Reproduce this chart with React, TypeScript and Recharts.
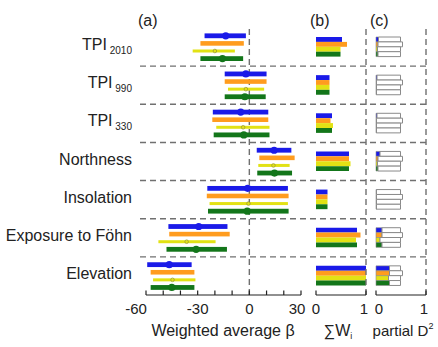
import React from 'react';
import { ComposedChart, Bar, XAxis, YAxis, ReferenceLine } from 'recharts';

// ---------- data ----------
const categories = ['TPI2010', 'TPI990', 'TPI330', 'Northness', 'Insolation', 'Exposure to Föhn', 'Elevation'];
const labelMain = ['TPI', 'TPI', 'TPI', 'Northness', 'Insolation', 'Exposure to Föhn', 'Elevation'];
const labelSub = ['2010', '990', '330', '', '', '', ''];

const seriesColors = ['#1a1ae8', '#ff9c1e', '#e2e214', '#13761a'];

// panel (a): weighted average beta, low / mid / high per model
const blueLow = [-26, -14.3, -21.2, 4.3, -24.4, -47, -59.3];
const blueMid = [-13.7, -2, -5, 14.4, -1, -29.4, -46.5];
const blueHigh = [-2, 10, 11, 24.4, 22.4, -12.7, -33.5];

const orangeLow = [-28.4, -14.3, -21.5, 5.8, -24.7, -46.5, -57.3];
const orangeMid = [-15.6, -2.5, -4, 15, -1, -28, -45];
const orangeHigh = [-3.2, 10, 11, 26.3, 22.8, -11.4, -31.9];

const yellowLow = [-32.9, -12.4, -19.2, 5.2, -23.1, -52.8, -55.9];
const yellowMid = [-20, -2, -3.6, 14, -0.5, -36.4, -44.6];
const yellowHigh = [-8.4, 8.6, 11.7, 23.4, 22.4, -19.6, -31.3];

const greenLow = [-28.4, -14.3, -20.7, 4.6, -24, -48.1, -57.3];
const greenMid = [-15.6, -2.6, -3.2, 14.6, -1.2, -30.9, -45];
const greenHigh = [-3.6, 9.5, 11.7, 24.8, 22.8, -13, -31.9];

// panel (b): sum of weights
const blueW = [0.52, 0.27, 0.32, 0.66, 0.23, 0.82, 1.0];
const orangeW = [0.62, 0.27, 0.29, 0.66, 0.23, 0.89, 1.0];
const yellowW = [0.49, 0.27, 0.34, 0.69, 0.23, 0.8, 1.0];
const greenW = [0.49, 0.27, 0.32, 0.66, 0.23, 0.82, 1.0];

// panel (c): partial D2 and full-model D2
const blueD = [0.05, 0.02, 0.02, 0.08, 0.01, 0.12, 0.27];
const orangeD = [0.04, 0.01, 0.01, 0.04, 0.01, 0.12, 0.27];
const yellowD = [0.03, 0.01, 0.01, 0.03, 0.01, 0.08, 0.25];
const greenD = [0.04, 0.01, 0.01, 0.04, 0.01, 0.12, 0.27];
const totalD = [0.49, 0.53, 0.49, 0.49];

const ticksA = [-60, -50, -40, -30, -20, -10, 0, 10, 20, 30];
const labelsA = [-60, -30, 0, 30];
const ticksBC = [0, 1];
const separators = [1, 2, 3, 4, 5, 6];

// ---------- tables ----------
const lows = [blueLow, orangeLow, yellowLow, greenLow];
const mids = [blueMid, orangeMid, yellowMid, greenMid];
const highs = [blueHigh, orangeHigh, yellowHigh, greenHigh];
const weights = [blueW, orangeW, yellowW, greenW];
const partials = [blueD, orangeD, yellowD, greenD];

const dataA = categories.map((name, i) => {
  const row: any = { name };
  for (let s = 0; s < 4; s++) {
    row[`lo${s}`] = lows[s][i];
    row[`mid${s}`] = mids[s][i];
    row[`hi${s}`] = highs[s][i];
  }
  return row;
});
const dataB = categories.map((name, i) => {
  const row: any = { name };
  for (let s = 0; s < 4; s++) row[`w${s}`] = weights[s][i];
  return row;
});
const dataC = categories.map((name, i) => {
  const row: any = { name };
  for (let s = 0; s < 4; s++) {
    row[`p${s}`] = partials[s][i];
    row[`r${s}`] = totalD[s] - partials[s][i];
  }
  return row;
});

// ---------- styles ----------
const FONT = '"Liberation Sans", Arial, Helvetica, sans-serif';
const TXT = '#222';
const DASH = '#707070';
const W = 438;
const H = 347;
const margin = { top: 28, bottom: 22 };
const AXIS_H = 30;

const thickness = [4.8, 4.6, 3, 4.8];

function RangeShape(props: any) {
  const { x, y, width, height, payload, s } = props;
  if (x == null || !payload) return <g />;
  const lo = payload[`lo${s}`];
  const hi = payload[`hi${s}`];
  const mid = payload[`mid${s}`];
  const cy = y + height / 2;
  const t = thickness[s];
  const mx = x + (width * (mid - lo)) / (hi - lo);
  const color = seriesColors[s];
  return (
    <g>
      <rect x={x} y={cy - t / 2} width={width} height={t} fill={color} />
      {(s === 0 || s === 3) && <circle cx={mx} cy={cy} r={3.6} fill={color} />}
      {s === 2 && <circle cx={mx} cy={cy} r={1.8} fill="none" stroke="#9a9a30" strokeWidth={0.8} />}
    </g>
  );
}

function makeXTick(labels: number[], dx: Record<string, number>) {
  return (props: any) => {
    const { x, y, payload } = props;
    const v = payload.value;
    return (
      <g>
        <line x1={x} x2={x} y1={y} y2={y - 4.5} stroke={TXT} strokeWidth={1.2} />
        {labels.includes(v) && (
          <text x={x + (dx[String(v)] || 0)} y={y + 19} textAnchor="middle" fontSize={15} fontFamily={FONT} fill={TXT}>
            {String(v)}
          </text>
        )}
      </g>
    );
  };
}

function YTick(props: any) {
  const { x, y, payload } = props;
  const i = categories.indexOf(payload.value);
  const sub = labelSub[i];
  return (
    <text x={x} y={y + 3} textAnchor="end" fontSize={16} fontFamily={FONT} fill={TXT}>
      <tspan>{labelMain[i]}</tspan>
      {sub && (
        <tspan fontSize={10} dy={4}>
          {' ' + sub}
        </tspan>
      )}
    </text>
  );
}

const abs: React.CSSProperties = { position: 'absolute', left: 0, top: 0 };

export default function App() {
  return (
    <div style={{ position: 'absolute', left: 0, top: 0, width: W, height: H, background: '#fff' }}>
      {/* separators, zero line and axis line of panel (a) */}
      <div style={abs}>
        <ComposedChart width={W} height={H} data={dataA} margin={{ top: margin.top, bottom: margin.bottom + AXIS_H, left: 140, right: 8 }}>
          <XAxis type="number" dataKey="lo0" domain={[-60, 30]} padding={{ left: 6, right: 129 }} hide allowDataOverflow />
          <YAxis type="number" domain={[0, 7]} hide allowDataOverflow />
          {separators.map((v) => (
            <ReferenceLine key={v} y={v} stroke={DASH} strokeWidth={1.4} strokeDasharray="6 4" />
          ))}
          <ReferenceLine x={0} stroke={DASH} strokeWidth={1.4} strokeDasharray="6 4" />
          <ReferenceLine segment={[{ x: -60, y: 0 }, { x: 30, y: 0 }]} stroke={TXT} strokeWidth={1.2} />
        </ComposedChart>
      </div>

      {/* panel (a) */}
      <div style={abs}>
        <ComposedChart width={W} height={H} data={dataA} layout="vertical" margin={{ top: margin.top, bottom: margin.bottom, left: 0, right: 8 }} barSize={7.6} barGap={0}>
          <XAxis
            type="number"
            domain={[-60, 30]}
            ticks={ticksA}
            interval={0}
            padding={{ left: 6, right: 129 }}
            axisLine={false}
            tickLine={false}
            tickSize={0}
            tickMargin={0}
            height={AXIS_H}
            tick={makeXTick(labelsA, { '-60': -10, '30': -4 })}
          />
          <YAxis yAxisId="cat" type="category" dataKey="name" width={140} axisLine={false} tickLine={false} tickSize={0} tickMargin={8} interval={0} tick={YTick} />
          {[0, 1, 2, 3].map((s) => (
            <Bar
              key={s}
              yAxisId="cat"
              dataKey={(d: any) => [d[`lo${s}`], d[`hi${s}`]]}
              isAnimationActive={false}
              shape={(p: any) => <RangeShape {...p} s={s} />}
            />
          ))}
        </ComposedChart>
      </div>

      {/* panel (b) */}
      <div style={abs}>
        <ComposedChart width={W} height={H} data={dataB} layout="vertical" margin={{ top: margin.top, bottom: margin.bottom, left: 316, right: 72 }} barSize={4.9} barGap={0}>
          <XAxis
            type="number"
            domain={[0, 1]}
            ticks={ticksBC}
            interval={0}
            axisLine={{ stroke: TXT, strokeWidth: 1.2 }}
            tickLine={false}
            tickSize={0}
            tickMargin={0}
            height={AXIS_H}
            tick={makeXTick(ticksBC, { '1': -2 })}
          />
          <YAxis yAxisId="cat" type="category" dataKey="name" hide />
          <ReferenceLine yAxisId="cat" x={1} stroke={DASH} strokeWidth={1.4} strokeDasharray="6 4" />
          {[0, 1, 2, 3].map((s) => (
            <Bar key={s} yAxisId="cat" dataKey={`w${s}`} fill={seriesColors[s]} isAnimationActive={false} />
          ))}
        </ComposedChart>
      </div>

      {/* panel (c) */}
      <div style={abs}>
        <ComposedChart width={W} height={H} data={dataC} layout="vertical" margin={{ top: margin.top, bottom: margin.bottom, left: 376, right: 12 }} barSize={4.9} barGap={0}>
          <XAxis
            type="number"
            domain={[0, 1]}
            ticks={ticksBC}
            interval={0}
            axisLine={{ stroke: TXT, strokeWidth: 1.2 }}
            tickLine={false}
            tickSize={0}
            tickMargin={0}
            height={AXIS_H}
            tick={makeXTick(ticksBC, { '0': 3, '1': -2 })}
          />
          <YAxis yAxisId="cat" type="category" dataKey="name" hide />
          <ReferenceLine yAxisId="cat" x={1} stroke={DASH} strokeWidth={1.4} strokeDasharray="6 4" />
          {[0, 1, 2, 3].flatMap((s) => [
            <Bar key={`p${s}`} yAxisId="cat" stackId={`s${s}`} dataKey={`p${s}`} fill={seriesColors[s]} stroke="#8a8a8a" strokeWidth={0.6} isAnimationActive={false} />,
            <Bar key={`r${s}`} yAxisId="cat" stackId={`s${s}`} dataKey={`r${s}`} fill="#ffffff" stroke="#8a8a8a" strokeWidth={1} isAnimationActive={false} />,
          ])}
        </ComposedChart>
      </div>

      {/* titles */}
      <svg width={W} height={H} style={{ ...abs, pointerEvents: 'none' }}>
        <g fontFamily={FONT} fill={TXT} fontSize={16}>
          <text x={138} y={26}>(a)</text>
          <text x={310} y={26}>(b)</text>
          <text x={370} y={26}>(c)</text>
          <text x={223} y={336} textAnchor="middle" fontSize={16}>Weighted average β</text>
          <text x={338} y={336} textAnchor="middle" fontSize={16}>
            <tspan>∑W</tspan>
            <tspan fontSize={9} dy={3}>i</tspan>
          </text>
          <text x={403} y={336} textAnchor="middle" fontSize={15}>
            <tspan>partial D</tspan>
            <tspan fontSize={9} dy={-7}>2</tspan>
          </text>
        </g>
      </svg>
    </div>
  );
}
